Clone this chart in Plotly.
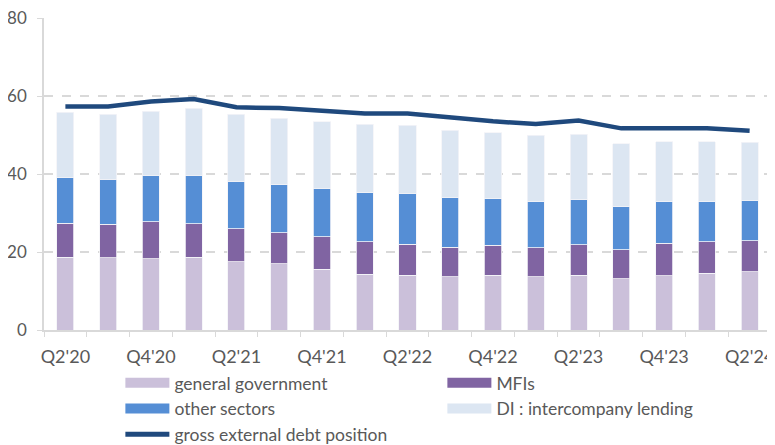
import plotly.graph_objects as go

quarters = ["Q2'20", "Q3'20", "Q4'20", "Q1'21", "Q2'21", "Q3'21", "Q4'21", "Q1'22",
            "Q2'22", "Q3'22", "Q4'22", "Q1'23", "Q2'23", "Q3'23", "Q4'23", "Q1'24", "Q2'24"]
tick_labels = [q if i % 2 == 0 else "" for i, q in enumerate(quarters)]

general_government = [18.6, 18.5, 18.3, 18.6, 17.5, 17.0, 15.6, 14.3, 14.0, 13.7, 14.0, 13.6, 14.0, 13.1, 13.9, 14.6, 14.9]
mfis = [8.8, 8.6, 9.4, 8.7, 8.5, 8.0, 8.3, 8.3, 8.0, 7.5, 7.7, 7.5, 7.8, 7.5, 8.3, 8.0, 8.0]
other_sectors = [11.6, 11.6, 11.8, 12.4, 12.2, 12.3, 12.5, 12.6, 13.1, 12.7, 11.9, 11.8, 11.6, 11.0, 10.7, 10.3, 10.4]
di_intercompany = [16.8, 16.6, 16.6, 17.1, 17.1, 17.0, 17.0, 17.5, 17.4, 17.3, 17.0, 17.0, 16.8, 16.2, 15.4, 15.4, 14.9]
gross_external_debt = [57.3, 57.3, 58.6, 59.2, 57.1, 56.9, 56.2, 55.5, 55.5, 54.4, 53.5, 52.8, 53.7, 51.7, 51.6, 51.7, 51.1]

FONT = "Lato, Roboto, Arial, sans-serif"
TXT = "#595959"

fig = go.Figure()
bar_specs = [
    ("general government", general_government, "#CBC0DA"),
    ("MFIs", mfis, "#8064A2"),
    ("other sectors", other_sectors, "#558ED5"),
    ("DI : intercompany lending", di_intercompany, "#DCE6F2"),
]
for name, vals, col in bar_specs:
    fig.add_trace(go.Bar(x=quarters, y=vals, name=name, showlegend=False, legendgroup=name,
                         marker=dict(color=col, line=dict(color="#F4F4F8", width=0.8))))

fig.add_trace(go.Scatter(x=quarters, y=gross_external_debt, name="gross external debt position",
                         mode="lines", line=dict(color="#1F497D", width=4.5), showlegend=False,
                         legendgroup="gross"))

# legend entries (rectangular swatches like the original)
for name, vals, col in bar_specs:
    fig.add_trace(go.Scatter(x=[None], y=[None], name=name, mode="lines", legendgroup=name,
                             line=dict(color=col, width=10)))
fig.add_trace(go.Scatter(x=[None], y=[None], name="gross external debt position", mode="lines",
                         legendgroup="gross", line=dict(color="#1F497D", width=5)))

fig.update_layout(
    width=775, height=445,
    barmode="stack", bargap=0.6,
    plot_bgcolor="white", paper_bgcolor="white",
    margin=dict(l=36, r=12, t=10, b=123, autoexpand=False),
    font=dict(family=FONT, size=18, color=TXT),
    legend=dict(orientation="h", xref="container", yref="container",
                x=0.145, xanchor="left", y=0.198, yanchor="top",
                entrywidth=263, entrywidthmode="pixels", traceorder="normal",
                font=dict(family=FONT, size=17.5, color=TXT), itemwidth=44,
                tracegroupgap=0, bgcolor="rgba(0,0,0,0)"),
)
fig.update_xaxes(type="category", categoryorder="array", categoryarray=quarters,
                 tickmode="array", tickvals=quarters, ticktext=tick_labels,
                 tickson="boundaries", ticks="outside", ticklen=5, tickcolor="#D9D9D9",
                 showline=True, linecolor="#D9D9D9", linewidth=1.5, showgrid=False,
                 ticklabelstandoff=10, ticklabeloverflow="allow",
                 tickfont=dict(family=FONT, size=18, color=TXT), tickangle=0)
fig.update_yaxes(range=[0, 80], dtick=20, showgrid=True, gridcolor="#D9D9D9", griddash="dash",
                 gridwidth=1.5, zeroline=False, showline=True, linecolor="#D9D9D9", linewidth=1.5,
                 ticks="outside", ticklen=5, tickcolor="#D9D9D9", ticklabelstandoff=7,
                 ticklabeloverflow="allow",
                 tickfont=dict(family=FONT, size=17, color=TXT))

fig.write_html("out.html")
